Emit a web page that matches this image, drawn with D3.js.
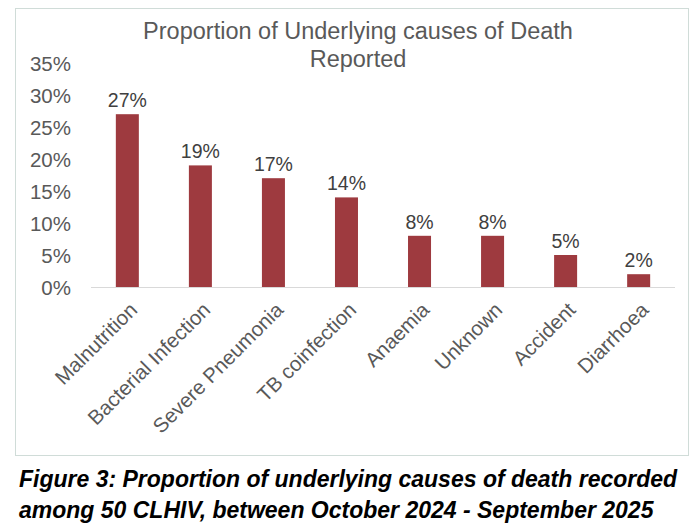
<!DOCTYPE html>
<html lang="en">
<head>
<meta charset="UTF-8">
<script src="https://d3js.org/d3.v7.min.js"></script>
<style>
  body { margin: 0; background: #fff; font-family: 'Liberation Sans', Arial, sans-serif; }
  .axis text { font-size: 20.5px; fill: #595959; font-family: 'Liberation Sans', Arial, sans-serif; }
  .caption { font-size: 23px; font-weight: bold; font-style: italic; fill: #000; }
</style>
</head>
<body>
<script>
const categories = ["Malnutrition", "Bacterial Infection", "Severe Pneumonia", "TB coinfection", "Anaemia", "Unknown", "Accident", "Diarrhoea"];
const values = [27, 19, 17, 14, 8, 8, 5, 2];
const yTicks = [0, 5, 10, 15, 20, 25, 30, 35];

const svg = d3.select("body").append("svg").attr("width", 700).attr("height", 529);

svg.append("rect").attr("x", 15.5).attr("y", 8.5).attr("width", 673).attr("height", 447)
  .attr("fill", "#fff").attr("stroke", "#d0dcd8");

const x = d3.scaleBand().domain(categories).range([91, 675]).paddingInner(0.685).paddingOuter(0.34);
const y = d3.scaleLinear().domain([0, 35]).range([287, 63]);

svg.append("line").attr("x1", 91).attr("x2", 675).attr("y1", 287.5).attr("y2", 287.5).attr("stroke", "#d9d9d9");

const yAxis = svg.append("g").attr("class", "axis").attr("transform", "translate(74,0)")
  .call(d3.axisLeft(y).tickValues(yTicks).tickFormat(d => d + "%").tickSize(0));
yAxis.select(".domain").remove();
yAxis.selectAll("text").attr("dy", "0.35em");

svg.selectAll(".bar").data(values).enter().append("rect")
  .attr("x", (d, i) => x(categories[i])).attr("width", x.bandwidth())
  .attr("y", d => y(d)).attr("height", d => y(0) - y(d))
  .attr("fill", "#9e3a3f");

svg.selectAll(".lbl").data(values).enter().append("text")
  .attr("x", (d, i) => x(categories[i]) + x.bandwidth() / 2).attr("y", d => y(d) - 7)
  .attr("text-anchor", "middle").attr("font-size", 19.5).attr("fill", "#404040").text(d => d + "%");

const xAxis = svg.append("g").attr("class", "axis").attr("transform", "translate(0,287)")
  .call(d3.axisBottom(x).tickSize(0));
xAxis.select(".domain").remove();
xAxis.selectAll("text").attr("text-anchor", "end").attr("dy", 0)
  .attr("transform", "translate(9,22) rotate(-45)");

svg.append("text").attr("x", 358).attr("y", 39).attr("text-anchor", "middle")
  .attr("font-size", 23.5).attr("fill", "#595959").text("Proportion of Underlying causes of Death");
svg.append("text").attr("x", 358).attr("y", 67).attr("text-anchor", "middle")
  .attr("font-size", 23.5).attr("fill", "#595959").text("Reported");

svg.append("text").attr("class", "caption").attr("x", 19).attr("y", 487)
  .text("Figure 3: Proportion of underlying causes of death recorded");
svg.append("text").attr("class", "caption").attr("x", 19).attr("y", 518)
  .text("among 50 CLHIV, between October 2024 - September 2025");
</script>
</body>
</html>
